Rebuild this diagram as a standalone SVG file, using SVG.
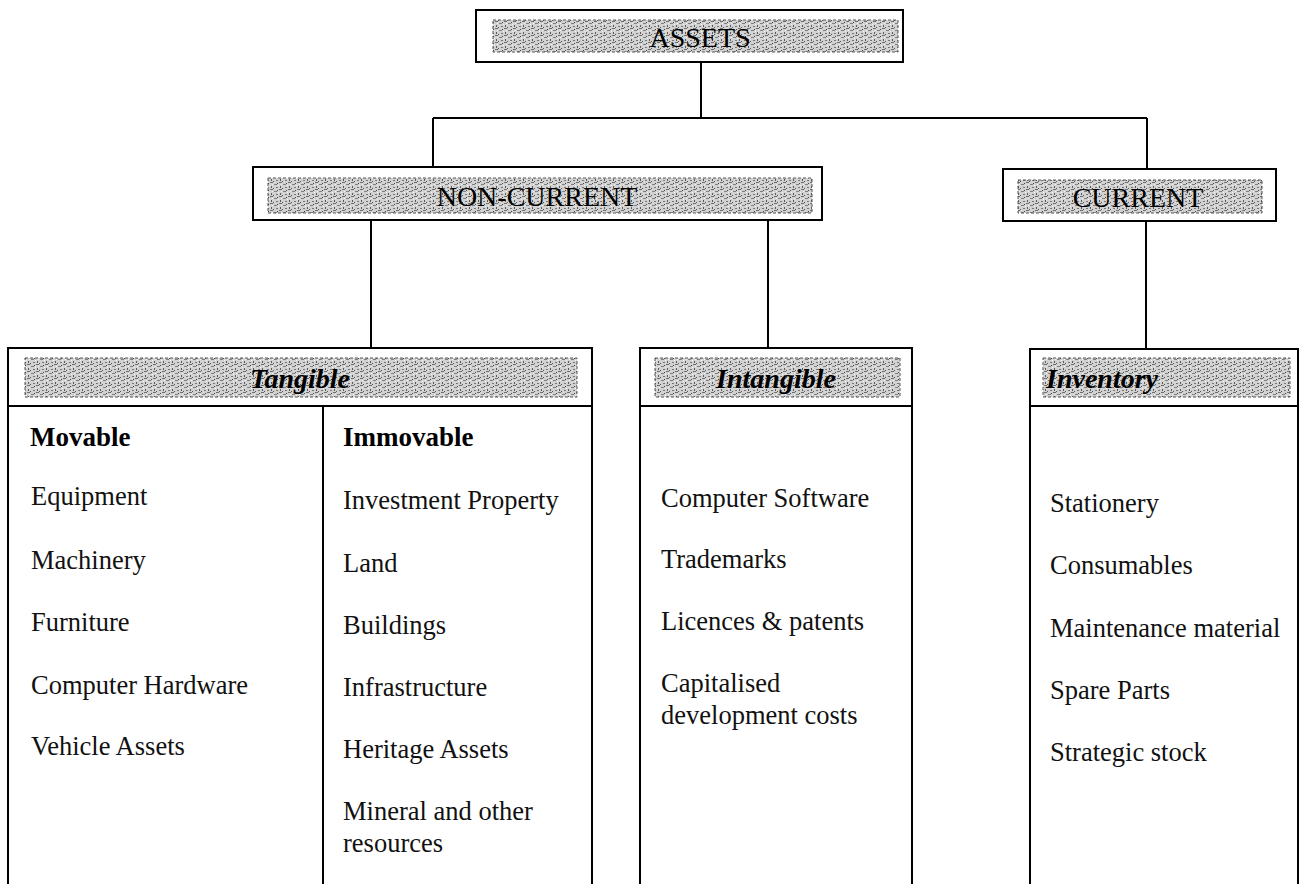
<svg xmlns="http://www.w3.org/2000/svg" width="1300" height="884" viewBox="0 0 1300 884">
<defs>
<pattern id="dither" width="9" height="7" patternUnits="userSpaceOnUse">
<rect width="9" height="7" fill="#d2d2d2"/>
<rect x="0" y="0" width="3" height="1" fill="#6e6e6e"/>
<rect x="4" y="2" width="3" height="1" fill="#808080"/>
<rect x="1" y="4" width="1" height="2" fill="#5a5a5a"/>
<rect x="6" y="5" width="2" height="1" fill="#777"/>
<rect x="7" y="1" width="1" height="1" fill="#444"/>
<rect x="3" y="6" width="1" height="1" fill="#555"/>
<rect x="8" y="3" width="1" height="1" fill="#f4f4f4"/>
<rect x="2" y="2" width="1" height="1" fill="#f4f4f4"/>
</pattern>
<style>
.box{fill:#fff;stroke:#000;stroke-width:2}
.shade{fill:url(#dither);stroke:#555;stroke-width:1;stroke-dasharray:3 2}
.line{fill:none;stroke:#000;stroke-width:2}
.hdr{font-family:"Liberation Serif","Times New Roman",serif;font-size:28px;fill:#000;text-anchor:middle}
.hdi{font-family:"Liberation Serif","Times New Roman",serif;font-size:28px;font-style:italic;font-weight:bold;fill:#000}
.t{font-family:"Liberation Serif","Times New Roman",serif;font-size:26.5px;fill:#111}
.b{font-family:"Liberation Serif","Times New Roman",serif;font-size:27px;font-weight:bold;fill:#000}
</style>
</defs>
<rect width="1300" height="884" fill="#fff"/>

<g id="connectors">
<path class="line" d="M701 62 V118 M433 118 H1147 M433 118 V167 M1147 118 V169"/>
<path class="line" d="M371 220 V348 M768 220 V348 M1146 221 V349"/>
</g>

<g id="assets">
<rect class="box" x="476" y="10" width="427" height="52"/>
<rect class="shade" x="493" y="20" width="405" height="32"/>
<text class="hdr" x="700" y="47">ASSETS</text>
</g>

<g id="non-current">
<rect class="box" x="253" y="167" width="569" height="53"/>
<rect class="shade" x="268" y="178" width="544" height="35"/>
<text class="hdr" x="537" y="206">NON-CURRENT</text>
</g>

<g id="current">
<rect class="box" x="1003" y="169" width="273" height="52"/>
<rect class="shade" x="1018" y="180" width="244" height="33"/>
<text class="hdr" x="1138" y="207">CURRENT</text>
</g>

<g id="tangible">
<path class="line" d="M8 884 V348 H592 V884 M8 406 H592 M323 406 V884"/>
<rect class="shade" x="25" y="358" width="552" height="39"/>
<text class="hdi" x="300" y="388" text-anchor="middle">Tangible</text>
<text class="b" x="30" y="446">Movable</text>
<text class="t" x="31" y="505">Equipment</text>
<text class="t" x="31" y="569">Machinery</text>
<text class="t" x="31" y="631">Furniture</text>
<text class="t" x="31" y="694">Computer Hardware</text>
<text class="t" x="31" y="755">Vehicle Assets</text>
<text class="b" x="343" y="446">Immovable</text>
<text class="t" x="343" y="509">Investment Property</text>
<text class="t" x="343" y="572">Land</text>
<text class="t" x="343" y="634">Buildings</text>
<text class="t" x="343" y="696">Infrastructure</text>
<text class="t" x="343" y="758">Heritage Assets</text>
<text class="t" x="343" y="820">Mineral and other</text>
<text class="t" x="343" y="852">resources</text>
</g>

<g id="intangible">
<path class="line" d="M640 884 V348 H912 V884 M640 406 H912"/>
<rect class="shade" x="655" y="358" width="245" height="39"/>
<text class="hdi" x="776" y="388" text-anchor="middle">Intangible</text>
<text class="t" x="661" y="507">Computer Software</text>
<text class="t" x="661" y="568">Trademarks</text>
<text class="t" x="661" y="630">Licences &amp; patents</text>
<text class="t" x="661" y="692">Capitalised</text>
<text class="t" x="661" y="724">development costs</text>
</g>

<g id="inventory">
<path class="line" d="M1030 884 V349 H1298 V884 M1030 406 H1298"/>
<rect class="shade" x="1043" y="358" width="247" height="39"/>
<text class="hdi" x="1046" y="388">Inventory</text>
<text class="t" x="1050" y="512">Stationery</text>
<text class="t" x="1050" y="574">Consumables</text>
<text class="t" x="1050" y="637">Maintenance material</text>
<text class="t" x="1050" y="699">Spare Parts</text>
<text class="t" x="1050" y="761">Strategic stock</text>
</g>
</svg>
